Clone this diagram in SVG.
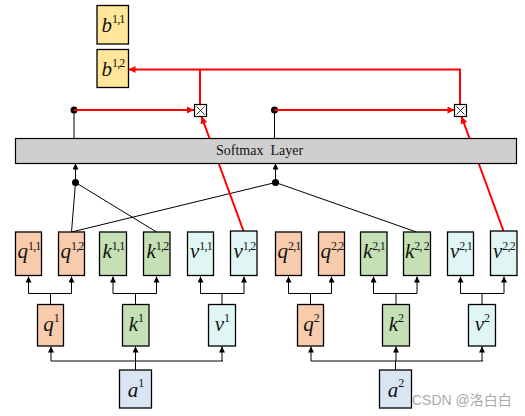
<svg xmlns="http://www.w3.org/2000/svg" width="525" height="416" viewBox="0 0 525 416">
<style>
.box{stroke:#000;stroke-width:1.3}
.q{fill:#f8cbad}.k{fill:#c5e0b4}.v{fill:#e0f6f4}.a{fill:#dae5f3}.b{fill:#ffe699}
.lbl{font-family:"Liberation Serif",serif;font-size:21px;fill:#111;text-anchor:middle}
.it{font-style:italic}
.sup{font-size:12px;letter-spacing:-0.8px}
.ln{stroke:#000;stroke-width:1;fill:none}
.rd{stroke:#f00;stroke-width:2;fill:none}
</style>
<defs>
<marker id="ab" viewBox="0 0 10 10" refX="10" refY="5" markerWidth="6" markerHeight="6" markerUnits="userSpaceOnUse" orient="auto"><path d="M0,0 L10,5 L0,10z" fill="#000"/></marker>
<marker id="ar" viewBox="0 0 10 10" refX="10" refY="5" markerWidth="8" markerHeight="7" markerUnits="userSpaceOnUse" orient="auto"><path d="M0,0 L10,5 L0,10z" fill="#f00"/></marker>
</defs>
<rect width="525" height="416" fill="#fff"/>

<g id="connectors">
<path class="ln" d="M135.5,370 V361 M51,361 H223 M395.5,370 V361 M311,361 H483"/>
<path class="ln" d="M51,361 V346.5" marker-end="url(#ab)"/>
<path class="ln" d="M135.5,361 V346.5" marker-end="url(#ab)"/>
<path class="ln" d="M222,361 V346.5" marker-end="url(#ab)"/>
<path class="ln" d="M311,361 V346.5" marker-end="url(#ab)"/>
<path class="ln" d="M396,361 V346.5" marker-end="url(#ab)"/>
<path class="ln" d="M482,361 V346.5" marker-end="url(#ab)"/>
<path class="ln" d="M50.5,304 V293.5 M28.5,293.5 H71.5 M135.5,304 V293.5 M113,293.5 H156.5 M222,304 V293.5 M200.5,293.5 H244
M310.5,304 V293.5 M288.5,293.5 H331.5 M396,304 V293.5 M373.5,293.5 H417 M482,304 V293.5 M460.5,293.5 H504"/>
<path class="ln" d="M28.5,293.5 V276.5" marker-end="url(#ab)"/>
<path class="ln" d="M71.5,293.5 V276.5" marker-end="url(#ab)"/>
<path class="ln" d="M113,293.5 V276.5" marker-end="url(#ab)"/>
<path class="ln" d="M156.5,293.5 V276.5" marker-end="url(#ab)"/>
<path class="ln" d="M200.5,293.5 V276.5" marker-end="url(#ab)"/>
<path class="ln" d="M244,293.5 V276.5" marker-end="url(#ab)"/>
<path class="ln" d="M288.5,293.5 V276.5" marker-end="url(#ab)"/>
<path class="ln" d="M331.5,293.5 V276.5" marker-end="url(#ab)"/>
<path class="ln" d="M373.5,293.5 V276.5" marker-end="url(#ab)"/>
<path class="ln" d="M417,293.5 V276.5" marker-end="url(#ab)"/>
<path class="ln" d="M460.5,293.5 V276.5" marker-end="url(#ab)"/>
<path class="ln" d="M504,293.5 V276.5" marker-end="url(#ab)"/>
<path class="ln" d="M71.5,232 L75.5,182.5 L156.5,232 M71.5,232 L275.5,182.5 L416.5,232"/>
<path class="ln" d="M75.5,182.5 V163.5" marker-end="url(#ab)"/>
<path class="ln" d="M275.5,182.5 V163.5" marker-end="url(#ab)"/>
<circle cx="75.5" cy="182.5" r="3.5" fill="#000"/>
<circle cx="275.5" cy="182.5" r="3.5" fill="#000"/>
<path class="ln" d="M74,138 V110 M274.5,138 V110"/>
<circle cx="74" cy="110" r="3.5" fill="#000"/>
<circle cx="274.5" cy="110" r="3.5" fill="#000"/>
<path class="rd" d="M74,110 H194" marker-end="url(#ar)"/>
<path class="rd" d="M274.5,110 H454.5" marker-end="url(#ar)"/>
<path class="rd" d="M243.5,231 L201.5,116.5" marker-end="url(#ar)"/>
<path class="rd" d="M503.5,231 L461.5,116.5" marker-end="url(#ar)"/>
<path class="rd" d="M200,104 V69.5 M460,104 V69.5 H200"/>
<path class="rd" d="M200,69.5 H128.5" marker-end="url(#ar)"/>
</g>

<g id="mul1"><rect x="194.5" y="104.5" width="12" height="12" fill="#fff" stroke="#000" stroke-width="1.2"/><path d="M196.5,106.5 L204.5,114.5 M204.5,106.5 L196.5,114.5" stroke="#000" stroke-width="0.8"/></g>
<g id="mul2"><rect x="454.5" y="104.5" width="12" height="12" fill="#fff" stroke="#000" stroke-width="1.2"/><path d="M456.5,106.5 L464.5,114.5 M464.5,106.5 L456.5,114.5" stroke="#000" stroke-width="0.8"/></g>

<g id="softmax"><rect x="15.5" y="138.5" width="501" height="25" fill="#d0cece" stroke="#000" stroke-width="1.2"/>
<text x="216" y="155" xml:space="preserve" font-family="'Liberation Serif',serif" font-size="14" fill="#111">Softmax  Layer</text></g>

<g id="b11"><rect class="box b" x="97" y="5.5" width="31.5" height="38.5"/><text class="lbl" x="113" y="32"><tspan class="it">b</tspan><tspan class="sup" dy="-9">1,1</tspan></text></g>
<g id="b12"><rect class="box b" x="97" y="49.5" width="31.5" height="38"/><text class="lbl" x="113" y="76"><tspan class="it">b</tspan><tspan class="sup" dy="-9">1,2</tspan></text></g>

<g id="q11"><rect class="box q" x="15.5" y="232" width="26" height="43.5"/><text class="lbl" x="29" y="258"><tspan class="it">q</tspan><tspan class="sup" dy="-8">1,1</tspan></text></g>
<g id="q12"><rect class="box q" x="58.5" y="232" width="26" height="43.5"/><text class="lbl" x="72" y="258"><tspan class="it">q</tspan><tspan class="sup" dy="-8">1,2</tspan></text></g>
<g id="k11"><rect class="box k" x="99.5" y="232" width="27" height="43.5"/><text class="lbl" x="113.5" y="258"><tspan class="it">k</tspan><tspan class="sup" dy="-8">1,1</tspan></text></g>
<g id="k12"><rect class="box k" x="143.5" y="232" width="26.5" height="43.5"/><text class="lbl" x="157.5" y="258"><tspan class="it">k</tspan><tspan class="sup" dy="-8">1,2</tspan></text></g>
<g id="v11"><rect class="box v" x="187.5" y="232" width="26" height="43.5"/><text class="lbl" x="201" y="258"><tspan class="it">v</tspan><tspan class="sup" dy="-8">1,1</tspan></text></g>
<g id="v12"><rect class="box v" x="230.5" y="231" width="26.5" height="44.5"/><text class="lbl" x="244.5" y="258"><tspan class="it">v</tspan><tspan class="sup" dy="-8">1,2</tspan></text></g>

<g id="q21"><rect class="box q" x="275.5" y="232" width="26" height="43.5"/><text class="lbl" x="289" y="258"><tspan class="it">q</tspan><tspan class="sup" dy="-8">2,1</tspan></text></g>
<g id="q22"><rect class="box q" x="318.5" y="232" width="26" height="43.5"/><text class="lbl" x="332" y="258"><tspan class="it">q</tspan><tspan class="sup" dy="-8">2,2</tspan></text></g>
<g id="k21"><rect class="box k" x="360.5" y="232" width="26.5" height="43.5"/><text class="lbl" x="374" y="258"><tspan class="it">k</tspan><tspan class="sup" dy="-8">2,1</tspan></text></g>
<g id="k22"><rect class="box k" x="403.5" y="232" width="27" height="43.5"/><text class="lbl" x="417" y="258"><tspan class="it">k</tspan><tspan class="sup" dy="-8">2, 2</tspan></text></g>
<g id="v21"><rect class="box v" x="447.5" y="232" width="26" height="43.5"/><text class="lbl" x="461" y="258"><tspan class="it">v</tspan><tspan class="sup" dy="-8">2,1</tspan></text></g>
<g id="v22"><rect class="box v" x="490.5" y="231" width="26.5" height="44.5"/><text class="lbl" x="504" y="258"><tspan class="it">v</tspan><tspan class="sup" dy="-8">2,2</tspan></text></g>

<g id="q1"><rect class="box q" x="37.5" y="304.5" width="26" height="41.5"/><text class="lbl" x="51" y="331"><tspan class="it">q</tspan><tspan class="sup" dy="-9">1</tspan></text></g>
<g id="k1"><rect class="box k" x="122.5" y="304.5" width="26.5" height="41.5"/><text class="lbl" x="136" y="331"><tspan class="it">k</tspan><tspan class="sup" dy="-9">1</tspan></text></g>
<g id="v1"><rect class="box v" x="208.5" y="304.5" width="27" height="41.5"/><text class="lbl" x="222" y="331"><tspan class="it">v</tspan><tspan class="sup" dy="-9">1</tspan></text></g>
<g id="q2"><rect class="box q" x="297.5" y="304.5" width="26" height="41.5"/><text class="lbl" x="311" y="331"><tspan class="it">q</tspan><tspan class="sup" dy="-9">2</tspan></text></g>
<g id="k2"><rect class="box k" x="382.5" y="304.5" width="27" height="41.5"/><text class="lbl" x="396" y="331"><tspan class="it">k</tspan><tspan class="sup" dy="-9">2</tspan></text></g>
<g id="v2"><rect class="box v" x="468.5" y="304.5" width="27" height="41.5"/><text class="lbl" x="482" y="331"><tspan class="it">v</tspan><tspan class="sup" dy="-9">2</tspan></text></g>

<g id="a1"><rect class="box a" x="119.5" y="370" width="32" height="38"/><text class="lbl" x="135.5" y="397"><tspan class="it">a</tspan><tspan class="sup" dy="-10">1</tspan></text></g>
<g id="a2"><rect class="box a" x="379.5" y="370" width="32" height="38"/><text class="lbl" x="395.5" y="397"><tspan class="it">a</tspan><tspan class="sup" dy="-10">2</tspan></text></g>

<text x="412" y="405" font-family="'Liberation Sans','Noto Sans CJK SC',sans-serif" font-size="14" fill="#aaa">CSDN @洛白白</text>
</svg>
